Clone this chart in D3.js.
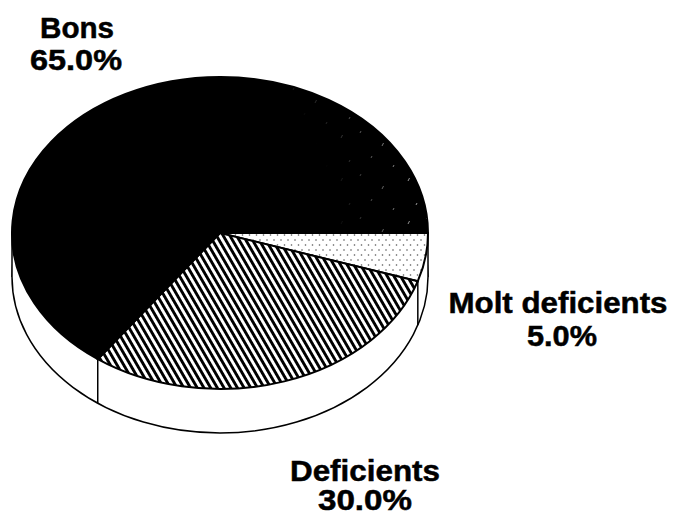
<!DOCTYPE html>
<html>
<head>
<meta charset="utf-8">
<script src="https://cdn.jsdelivr.net/npm/d3@7"></script>
<style>
body { margin:0; background:#fff; }
text { font-family:"Liberation Sans", sans-serif; font-weight:700; font-size:29px; fill:#000; stroke:#000; stroke-width:0.5; text-anchor:middle; }
</style>
</head>
<body>
<script>
// slices clockwise from 3 o'clock
var categories = ["Molt deficients", "Deficients", "Bons"];
var percents   = [5, 30, 65];
var fills      = ["url(#dots)", "url(#hatch)", "#000"];

// label anchor x, baseline y and stretched width: [name line, percent line]
var nameLayout = [[558, 313, 219], [365, 481, 150], [77, 38, 74]];
var pctLayout  = [[562, 346, 70], [365, 510, 94], [76, 70, 92]];

var width = 676, height = 516;
var cx = 220, cy = 233, rx = 208, ry = 156, depth = 44;
var k = ry / rx;

var svg = d3.select("body").append("svg").attr("width", width).attr("height", height).style("display", "block");
var defs = svg.append("defs");

var hatch = defs.append("pattern").attr("id", "hatch").attr("patternUnits", "userSpaceOnUse")
    .attr("width", 5.8).attr("height", 5.8)
    .attr("patternTransform", "scale(1," + (1 / k) + ") rotate(-30)");
hatch.append("rect").attr("width", 5.8).attr("height", 5.8).attr("fill", "#fff");
hatch.append("rect").attr("width", 2.9).attr("height", 5.8).attr("fill", "#000");

var dots = defs.append("pattern").attr("id", "dots").attr("patternUnits", "userSpaceOnUse")
    .attr("width", 7).attr("height", 10)
    .attr("patternTransform", "scale(1," + (1 / k) + ")");
dots.append("rect").attr("width", 7).attr("height", 10).attr("fill", "#fff");
dots.append("circle").attr("cx", 1.5).attr("cy", 2).attr("r", 0.8).attr("fill", "#555");
dots.append("circle").attr("cx", 5).attr("cy", 7).attr("r", 0.8).attr("fill", "#555");

// faint specks the scan leaves in the black slice, stronger toward the right rim
var specks = defs.append("pattern").attr("id", "specks").attr("patternUnits", "userSpaceOnUse")
    .attr("width", 67).attr("height", 43);
specks.selectAll("path").data(["M6 9l1.5-3", "M25 4l1-2", "M47 17l1.5-3", "M14 33l1-2", "M36 29l1-2", "M58 38l1-2"])
    .enter().append("path").attr("d", function(d){return d;})
    .attr("stroke", "#999").attr("stroke-width", 1).attr("fill", "none");

var speckFade = defs.append("radialGradient").attr("id", "speckFade").attr("gradientUnits", "userSpaceOnUse")
    .attr("cx", cx - 70).attr("cy", cy - 10).attr("r", rx + 70);
speckFade.append("stop").attr("offset", 0.66).attr("stop-color", "#000");
speckFade.append("stop").attr("offset", 0.95).attr("stop-color", "#fff");
defs.append("mask").attr("id", "speckMask").attr("maskUnits", "userSpaceOnUse")
    .attr("x", 0).attr("y", 0).attr("width", width).attr("height", height)
    .append("rect").attr("width", width).attr("height", height).attr("fill", "url(#speckFade)");

var pie = d3.pie().value(function(d){return d;}).sort(null)
    .startAngle(Math.PI / 2).endAngle(Math.PI / 2 + 2 * Math.PI);
var arcs = pie(percents);
var arc = d3.arc().innerRadius(0).outerRadius(rx);

function rimX(a) { return cx + rx * Math.sin(a); }
function rimY(a) { return cy - ry * Math.cos(a); }

// side wall: lower ellipse plus the two vertical edges
svg.append("ellipse").attr("cx", cx).attr("cy", cy + depth).attr("rx", rx).attr("ry", ry)
    .attr("fill", "#fff").attr("stroke", "#000").attr("stroke-width", 1.5);
svg.append("rect").attr("x", cx - rx).attr("y", cy).attr("width", 2 * rx).attr("height", depth).attr("fill", "#fff");
svg.selectAll("line.side").data([cx - rx, cx + rx]).enter().append("line").attr("class", "side")
    .attr("x1", function(d){return d;}).attr("x2", function(d){return d;})
    .attr("y1", cy).attr("y2", cy + depth).attr("stroke", "#000").attr("stroke-width", 1.5);

// edges of the wall where slices meet
svg.selectAll("line.edge").data(arcs.slice(0, 2)).enter().append("line").attr("class", "edge")
    .attr("x1", function(d){return rimX(d.endAngle);})
    .attr("x2", function(d){return rimX(d.endAngle);})
    .attr("y1", function(d){return rimY(d.endAngle);})
    .attr("y2", function(d){return rimY(d.endAngle) + depth;})
    .attr("stroke", "#000").attr("stroke-width", 1.5);

var face = svg.append("g").attr("transform", "translate(" + cx + "," + cy + ") scale(1," + k + ")");
face.selectAll("path").data(arcs).enter().append("path")
    .attr("d", arc)
    .attr("fill", function(d, i){return fills[i];})
    .attr("stroke", "#000").attr("stroke-width", 2)
    .attr("vector-effect", "non-scaling-stroke");

// specks only over the black slice, drawn in page coordinates
var speckClip = defs.append("clipPath").attr("id", "bonsClip");
speckClip.append("path").attr("d", arc(arcs[2]))
    .attr("transform", "translate(" + cx + "," + cy + ") scale(1," + k + ")");
svg.append("g").attr("clip-path", "url(#bonsClip)").append("rect")
    .attr("width", width).attr("height", height)
    .attr("fill", "url(#specks)").attr("mask", "url(#speckMask)");

var labels = svg.append("g");
categories.forEach(function(c, i) {
    labels.append("text").attr("x", nameLayout[i][0]).attr("y", nameLayout[i][1])
        .attr("textLength", nameLayout[i][2]).attr("lengthAdjust", "spacingAndGlyphs").text(c);
    labels.append("text").attr("x", pctLayout[i][0]).attr("y", pctLayout[i][1])
        .attr("textLength", pctLayout[i][2]).attr("lengthAdjust", "spacingAndGlyphs").text(percents[i].toFixed(1) + "%");
});
</script>
</body>
</html>
